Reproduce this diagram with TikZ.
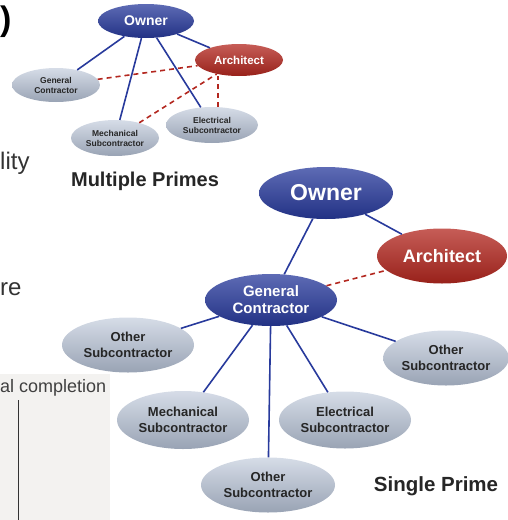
\documentclass[tikz,border=0pt]{standalone}
\usepackage{fontspec}
\setmainfont{Liberation Sans}
\usetikzlibrary{shapes.geometric}
\definecolor{ownblue}{HTML}{283A9C}
\definecolor{archred}{HTML}{B3271F}
\definecolor{subgray}{HTML}{B4C0D4}
\definecolor{pagegray}{HTML}{F3F2F0}
\tikzset{
  party/.style={ellipse,inner sep=0pt,font=\bfseries,align=center},
  ownerbox/.style={party,top color=ownblue!75!white,bottom color=ownblue!85!black,text=white},
  archbox/.style={party,top color=archred!75!white,bottom color=archred!85!black,text=white},
  subbox/.style={party,top color=subgray!55!white,bottom color=subgray!85!black,text=black!85},
  contract/.style={draw=ownblue,line width=1.6pt},
  advice/.style={draw=archred,dashed,line width=1.6pt,dash pattern=on 5pt off 4pt},
}
\begin{document}
\begin{tikzpicture}[x=1pt,y=-1pt]
        \useasboundingbox (0,0) rectangle (508,520);
        % page fragments
        \fill[pagegray] (0,374) rectangle (110,520);
        \draw[black!80,line width=1pt] (18,400) -- (18,520);
        \node[anchor=base west,font=\fontsize{18}{18}\selectfont,text=black!75,inner sep=0pt] (frag4) at (0,392) {al completion};
        \node[anchor=west,font=\fontsize{34}{34}\bfseries\selectfont,inner sep=0pt] (frag1) at (0,22) {)};
        \node[anchor=base west,font=\fontsize{24}{24}\selectfont,text=black!80,inner sep=0pt] (frag2) at (0,169) {lity};
        \node[anchor=base west,font=\fontsize{24}{24}\selectfont,text=black!80,inner sep=0pt] (frag3) at (0,295) {re};
        % multiple primes
        \node[ownerbox,minimum width=96pt,minimum height=34pt,font=\fontsize{14}{14}\bfseries\selectfont] (mowner) at (146,21) {Owner};
        \node[archbox,minimum width=88pt,minimum height=32pt,font=\fontsize{11.5}{11.5}\bfseries\selectfont] (march) at (239,60) {Architect};
        \node[subbox,minimum width=88pt,minimum height=34pt,font=\fontsize{8.5}{10}\bfseries\selectfont] (mgc) at (56,85) {General\\Contractor};
        \node[subbox,minimum width=88pt,minimum height=36pt,font=\fontsize{8.5}{10}\bfseries\selectfont] (mmech) at (115,138) {Mechanical\\Subcontractor};
        \node[subbox,minimum width=92pt,minimum height=36pt,font=\fontsize{8.5}{10}\bfseries\selectfont] (melec) at (212,125) {Electrical\\Subcontractor};
        \node[font=\fontsize{20}{20}\bfseries\selectfont,text=black!85] (mtitle) at (145,181) {Multiple Primes};
        \draw[contract] (mowner) -- (mgc);
        \draw[contract] (mowner) -- (mmech);
        \draw[contract] (mowner) -- (melec);
        \draw[contract] (mowner) -- (march);
        \draw[advice] (mgc) -- (march);
        \draw[advice] (mmech) -- (march);
        \draw[advice] (melec.north) ++(6,0) coordinate (mup) -- (march.south -| mup);
        % single prime
        \node[ownerbox,minimum width=134pt,minimum height=52pt,font=\fontsize{23}{23}\bfseries\selectfont] (owner) at (326,193) {Owner};
        \node[archbox,minimum width=130pt,minimum height=55pt,font=\fontsize{18}{18}\bfseries\selectfont] (arch) at (442,256) {Architect};
        \node[ownerbox,minimum width=132pt,minimum height=52pt,font=\fontsize{15}{17}\bfseries\selectfont] (gc) at (271,300) {General\\Contractor};
        \node[subbox,minimum width=132pt,minimum height=55pt,font=\fontsize{13}{16}\bfseries\selectfont] (otherl) at (128,345) {Other\\Subcontractor};
        \node[subbox,minimum width=122pt,minimum height=55pt,font=\fontsize{13}{16}\bfseries\selectfont] (otherr) at (446,358) {Other\\Subcontractor};
        \node[subbox,minimum width=132pt,minimum height=58pt,font=\fontsize{13}{16}\bfseries\selectfont] (mech) at (183,420) {Mechanical\\Subcontractor};
        \node[subbox,minimum width=132pt,minimum height=57pt,font=\fontsize{13}{16}\bfseries\selectfont] (elec) at (345,420) {Electrical\\Subcontractor};
        \node[subbox,minimum width=134pt,minimum height=55pt,font=\fontsize{13}{16}\bfseries\selectfont] (otherb) at (268,485) {Other\\Subcontractor};
        \node[font=\fontsize{20.5}{20.5}\bfseries\selectfont,text=black!85] (stitle) at (436,486) {Single Prime};
        \draw[contract] (owner) -- (gc);
        \draw[contract] (owner) -- (arch);
        \draw[advice] (gc) -- (arch);
        \draw[contract] (gc) -- (otherl);
        \draw[contract] (gc) -- (mech);
        \draw[contract] (gc) -- (otherb);
        \draw[contract] (gc) -- (elec);
        \draw[contract] (gc) -- (otherr);
    \end{tikzpicture}
\end{document}
